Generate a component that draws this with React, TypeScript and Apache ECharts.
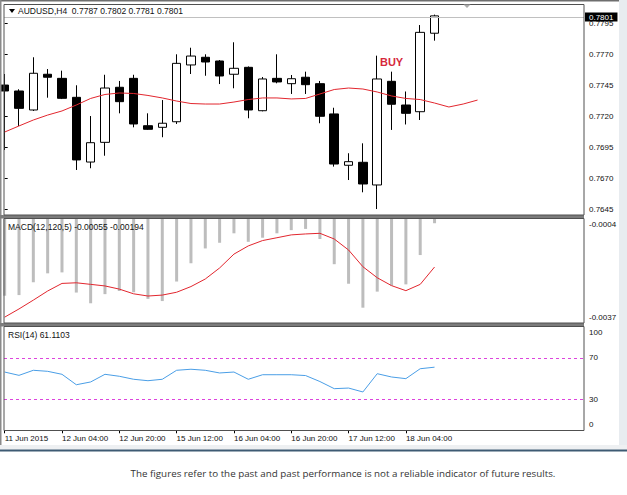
import React, { useEffect, useRef } from 'react';
import * as echarts from 'echarts';

// ---------------- data ----------------
const symbolName = 'AUDUSD,H4';
const xTickIndex = [0, 4, 8, 12, 16, 20, 24, 28];
const xTickLabels = ['11 Jun 2015', '12 Jun 04:00', '12 Jun 20:00', '15 Jun 12:00', '16 Jun 04:00', '16 Jun 20:00', '17 Jun 12:00', '18 Jun 04:00'];

const opens = [0.77452, 0.77404, 0.77251, 0.77539, 0.77506, 0.77353, 0.76831, 0.7699, 0.77434, 0.77506, 0.77124, 0.77111, 0.77156, 0.77614, 0.77676, 0.77646, 0.77539, 0.77595, 0.77245, 0.77506, 0.77463, 0.77515, 0.77463, 0.77219, 0.76805, 0.76829, 0.76646, 0.77482, 0.77291, 0.77237, 0.7787];
const highs = [0.77541, 0.77418, 0.77676, 0.77581, 0.77568, 0.7745, 0.77202, 0.77535, 0.77485, 0.77535, 0.77224, 0.77331, 0.777, 0.77753, 0.777, 0.77654, 0.77797, 0.77602, 0.77517, 0.777, 0.77533, 0.7756, 0.77485, 0.77269, 0.76902, 0.76982, 0.77689, 0.7756, 0.774, 0.77936, 0.7802];
const lows = [0.76928, 0.77122, 0.77243, 0.7735, 0.77339, 0.76767, 0.76781, 0.76882, 0.77224, 0.77111, 0.7709, 0.77031, 0.77138, 0.77541, 0.77527, 0.7746, 0.77426, 0.77184, 0.7724, 0.77466, 0.7738, 0.7738, 0.77144, 0.76794, 0.76686, 0.76587, 0.76452, 0.7709, 0.77134, 0.7717, 0.7781];
const closes = [0.77404, 0.77264, 0.77547, 0.77515, 0.77345, 0.76848, 0.76987, 0.77428, 0.77318, 0.77138, 0.77095, 0.77144, 0.77627, 0.77686, 0.77638, 0.77525, 0.77587, 0.77251, 0.77501, 0.77477, 0.77503, 0.77455, 0.772, 0.76815, 0.76834, 0.76654, 0.77501, 0.77297, 0.77224, 0.77877, 0.7801];

// shifted moving average (extends 3 bars beyond the last candle)
const maValues = [0.77073, 0.77122, 0.7717, 0.7721, 0.77243, 0.77291, 0.77344, 0.77376, 0.77388, 0.77384, 0.77368, 0.77348, 0.77323, 0.77303, 0.77299, 0.77299, 0.77315, 0.77335, 0.77348, 0.77348, 0.7734, 0.77344, 0.7738, 0.77416, 0.77428, 0.7742, 0.77396, 0.77364, 0.77344, 0.77335, 0.77307, 0.77275, 0.77299, 0.77331];

const macdHist = [-0.00285, -0.00283, -0.00242, -0.00214, -0.00211, -0.00275, -0.00309, -0.0028, -0.0027, -0.00274, -0.00295, -0.00302, -0.0024, -0.00182, -0.00135, -0.00117, -0.00087, -0.00114, -0.00101, -0.00087, -0.00077, -0.00073, -0.00105, -0.00185, -0.00247, -0.00323, -0.00272, -0.00253, -0.00249, -0.00156, -0.00055];
const macdSignal = [-0.00353, -0.00327, -0.00299, -0.0027, -0.00246, -0.00244, -0.00249, -0.00254, -0.00264, -0.00279, -0.00286, -0.00283, -0.00274, -0.00256, -0.00232, -0.00197, -0.00153, -0.00127, -0.0011, -0.00101, -0.00092, -0.00089, -0.00087, -0.00105, -0.0014, -0.00193, -0.00228, -0.00253, -0.00269, -0.00249, -0.00194];

const rsiValues = [56.4, 53.2, 58.1, 57.1, 54.2, 44.1, 46.8, 54.2, 52.3, 49.4, 48, 49.4, 58.1, 59.1, 58.1, 55.5, 56.4, 49.4, 53.8, 53.8, 53.8, 53, 47.2, 40.3, 40.9, 37.1, 54.8, 51.6, 50, 59.6, 61.1103];

const priceTicks = [0.7645, 0.767, 0.7695, 0.772, 0.7745, 0.777, 0.7795];
const macdTicks = [-0.0037, -0.0004];
const rsiTicks = [0, 30, 70, 100];
const rsiLevels = [30, 70];
const buySignal = { index: 27, price: 0.77634, text: 'BUY' };
const footnote = 'The figures refer to the past and past performance is not a reliable indicator of future results.';

// ---------------- layout constants ----------------
const FONT = 'Liberation Sans';
const X_MIN = -0.0468;
const X_MAX = 40.43;

export default function App() {
  const ref = useRef<HTMLDivElement>(null);

  useEffect(() => {
    if (!ref.current) return;
    const chart = echarts.init(ref.current, undefined, { renderer: 'svg' });
    const n = closes.length;
    const last = n - 1;
    const lastPrice = closes[last];
    const candleData = closes.map((c, i) => [i, opens[i], c, lows[i], highs[i]]);
    const maData = maValues.map((v, i) => [i, v]);
    const histData = macdHist.map((v, i) => [i, v]);
    const sigData = macdSignal.map((v, i) => [i, v]);
    const rsiData = rsiValues.map((v, i) => [i, v]);

    const baseLabel = { fontSize: 8, color: '#111', fontFamily: FONT };
    const shifted = {
      t: { padding: [11, 0, 0, 0], fontSize: 8, color: '#111', fontFamily: FONT },
      b: { padding: [0, 0, 11, 0], fontSize: 8, color: '#111', fontFamily: FONT },
    };

    const hiddenX = (gridIndex: number) => ({
      gridIndex, type: 'value', min: X_MIN, max: X_MAX, show: false,
      splitLine: { show: false },
    });

    const option: any = {
      animation: false,
      backgroundColor: '#ffffff',
      textStyle: { fontFamily: FONT },
      grid: [
        { left: 4, width: 580, top: 5, height: 210 },
        { left: 4, width: 580, top: 218.5, height: 104 },
        { left: 4, width: 580, top: 327, height: 103.3 },
      ],
      xAxis: [
        hiddenX(0),
        hiddenX(1),
        {
          gridIndex: 2, type: 'value', min: X_MIN, max: X_MAX, position: 'bottom',
          splitLine: { show: false },
          axisLine: { show: false },
          axisTick: { show: true, length: 3, customValues: xTickIndex, lineStyle: { color: '#000' } },
          axisLabel: {
            ...baseLabel, customValues: xTickIndex, align: 'left', margin: 4,
            formatter: (v: number) => xTickLabels[xTickIndex.indexOf(Math.round(v))] ?? '',
          },
        },
      ],
      yAxis: [
        {
          gridIndex: 0, type: 'value', position: 'right', min: 0.764039, max: 0.780976, scale: true,
          splitLine: { show: false }, axisLine: { show: false },
          axisTick: { show: true, length: 3, customValues: priceTicks, lineStyle: { color: '#000' } },
          axisLabel: { ...baseLabel, customValues: priceTicks, margin: 5, formatter: (v: number) => v.toFixed(4) },
        },
        {
          gridIndex: 1, type: 'value', position: 'right', min: macdTicks[0], max: macdTicks[1], scale: true,
          splitLine: { show: false }, axisLine: { show: false },
          axisTick: { show: false },
          axisLabel: {
            ...baseLabel, customValues: macdTicks, margin: 5, rich: shifted,
            formatter: (v: number) => (v === macdTicks[1] ? `{t|${v.toFixed(4)}}` : `{b|${v.toFixed(4)}}`),
          },
        },
        {
          gridIndex: 2, type: 'value', position: 'right', min: 0, max: 100,
          splitLine: { show: false }, axisLine: { show: false },
          axisTick: { show: false },
          axisLabel: {
            ...baseLabel, customValues: rsiTicks, margin: 5, rich: shifted,
            formatter: (v: number) => (v === 100 ? `{t|${v}}` : v === 0 ? `{b|${v}}` : `${v}`),
          },
        },
      ],
      series: [
        {
          type: 'candlestick', xAxisIndex: 0, yAxisIndex: 0, data: candleData,
          barWidth: 9, clip: true,
          itemStyle: { color: '#ffffff', color0: '#000000', borderColor: '#000000', borderColor0: '#000000', borderWidth: 1 },
          markLine: {
            silent: true, symbol: ['none', 'none'],
            lineStyle: { color: '#c0c0c0', width: 1, type: 'solid' },
            label: {
              show: true, position: 'end', distance: 1, formatter: lastPrice.toFixed(4),
              backgroundColor: '#000', color: '#fff', fontSize: 8, lineHeight: 9, fontFamily: FONT, padding: [0, 4, 0, 4],
            },
            data: [{ yAxis: lastPrice }],
          },
          markPoint: {
            symbol: 'circle', symbolSize: 1, silent: true,
            itemStyle: { color: 'rgba(0,0,0,0)' },
            label: { show: true, position: 'inside', formatter: buySignal.text, color: '#d6283b', fontSize: 11, fontWeight: 'bold', fontFamily: FONT },
            data: [{ coord: [buySignal.index, buySignal.price] }],
          },
        },
        {
          type: 'line', xAxisIndex: 0, yAxisIndex: 0, data: maData, showSymbol: false, symbol: 'none',
          lineStyle: { color: '#e2262e', width: 1 }, z: 3,
        },
        {
          type: 'bar', xAxisIndex: 1, yAxisIndex: 1, data: histData, barWidth: 3, clip: true,
          itemStyle: { color: '#bdbdbd' },
        },
        {
          type: 'line', xAxisIndex: 1, yAxisIndex: 1, data: sigData, showSymbol: false, symbol: 'none',
          lineStyle: { color: '#e2262e', width: 1 }, z: 3,
        },
        {
          type: 'line', xAxisIndex: 2, yAxisIndex: 2, data: rsiData, showSymbol: false, symbol: 'none',
          lineStyle: { color: '#4a9ee6', width: 1 },
          markLine: {
            silent: true, symbol: ['none', 'none'], label: { show: false },
            lineStyle: { color: '#dd44dd', width: 1, type: [3, 3] },
            data: rsiLevels.map((v) => ({ yAxis: v })),
          },
        },
      ],
      graphic: [
        { type: 'rect', z: 50, shape: { x: 619, y: 0, width: 8, height: 445 }, style: { fill: '#e8ecf0' } },
        { type: 'rect', z: 50, shape: { x: 0, y: 0, width: 619, height: 1.5 }, style: { fill: '#6e6e6e' } },
        { type: 'rect', z: 50, shape: { x: 0, y: 0, width: 1.5, height: 445 }, style: { fill: '#8a8a8a' } },
        { type: 'rect', z: 50, shape: { x: 0, y: 215, width: 584, height: 3.5 }, style: { fill: '#7c7c7c' } },
        { type: 'rect', z: 50, shape: { x: 0, y: 323, width: 584, height: 3.5 }, style: { fill: '#7c7c7c' } },
        { type: 'rect', z: 50, shape: { x: 4, y: 4.5, width: 580, height: 210.5 }, style: { fill: 'none', stroke: '#505050', lineWidth: 1 } },
        { type: 'rect', z: 50, shape: { x: 4, y: 218.5, width: 580, height: 104.5 }, style: { fill: 'none', stroke: '#505050', lineWidth: 1 } },
        { type: 'rect', z: 50, shape: { x: 4, y: 326.5, width: 580, height: 104 }, style: { fill: 'none', stroke: '#505050', lineWidth: 1 } },
        { type: 'rect', z: 50, shape: { x: 0, y: 445, width: 627, height: 4.5 }, style: { fill: '#eef0f2' } },
        { type: 'rect', z: 50, shape: { x: 0, y: 449.5, width: 627, height: 2 }, style: { fill: '#3d5a73' } },
        { type: 'polygon', z: 50, shape: { points: [[9, 9], [15, 9], [12, 13]] }, style: { fill: '#000' } },
        { type: 'polygon', z: 50, shape: { points: [[463.5, 4.5], [470.5, 4.5], [467, 8]] }, style: { fill: '#aaaaaa' } },
        {
          type: 'text', z: 50, x: 18, y: 11,
          style: {
            text: `${symbolName}\u00a0\u00a0${opens[last].toFixed(4)} ${highs[last].toFixed(4)} ${lows[last].toFixed(4)} ${closes[last].toFixed(4)}`,
            fill: '#111', fontSize: 8.5, fontFamily: FONT, verticalAlign: 'middle',
          },
        },
        {
          type: 'text', z: 50, x: 8, y: 226.5,
          style: {
            text: `MACD(12,120,5) ${macdHist[last].toFixed(5)} ${macdSignal[last].toFixed(5)}`,
            fill: '#111', fontSize: 8.5, fontFamily: FONT, verticalAlign: 'middle',
          },
        },
        {
          type: 'text', z: 50, x: 8, y: 334.5,
          style: {
            text: `RSI(14) ${rsiValues[last].toFixed(4)}`,
            fill: '#111', fontSize: 8.5, fontFamily: FONT, verticalAlign: 'middle',
          },
        },
        {
          type: 'text', z: 50, x: 343, y: 473,
          style: {
            text: footnote, fill: '#333', fontSize: 9.8, fontFamily: 'Open Sans',
            align: 'center', verticalAlign: 'middle',
          },
        },
      ],
    };

    chart.setOption(option);
    return () => chart.dispose();
  }, []);

  return (
    <div
      ref={ref}
      style={{ position: 'absolute', left: 0, top: 0, width: 627, height: 495, background: '#fff' }}
    />
  );
}
